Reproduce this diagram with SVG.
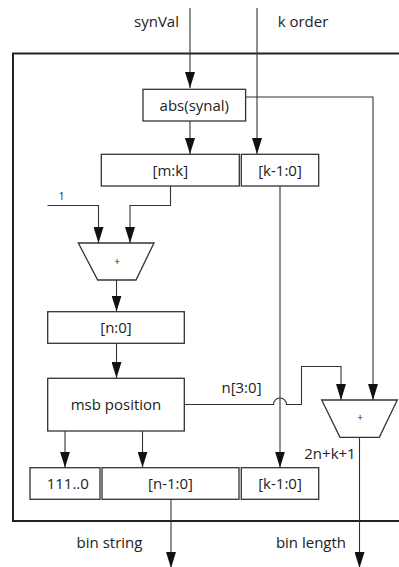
<svg xmlns="http://www.w3.org/2000/svg" width="399" height="567" viewBox="0 0 399 567">
<style>
.box{fill:#fff;stroke:#333;stroke-width:1.3}
.w{fill:none;stroke:#333;stroke-width:1.1}
.t{font-family:"Open Sans","Liberation Sans",sans-serif;font-size:15px;fill:#222;text-anchor:middle}
.s{font-family:"Open Sans","Liberation Sans",sans-serif;font-size:10px;fill:#222;text-anchor:middle}
</style>
<defs>
<marker id="a" viewBox="0 0 16 10" markerWidth="16" markerHeight="10" refX="16" refY="5" orient="auto" markerUnits="userSpaceOnUse">
<path d="M0,0 L16,5 L0,10 z" fill="#111"/>
</marker>
</defs>
<rect width="399" height="567" fill="#fff"/>
<rect id="frame" x="13" y="53.5" width="400" height="467.5" fill="none" stroke="#222" stroke-width="2"/>
<g id="connectors">
<path class="w" d="M190,8 V88" marker-end="url(#a)"/>
<path class="w" d="M257,8 V154" marker-end="url(#a)"/>
<path class="w" d="M190,121 V154" marker-end="url(#a)"/>
<path class="w" d="M246,97 H373 V400" marker-end="url(#a)"/>
<path class="w" d="M170.5,186 V205.5 H130 V243" marker-end="url(#a)"/>
<path class="w" d="M47.5,205.5 H98.5 V243" marker-end="url(#a)"/>
<path class="w" d="M116.5,280 V311.5" marker-end="url(#a)"/>
<path class="w" d="M116.5,343.5 V378" marker-end="url(#a)"/>
<path class="w" d="M280,186 V467.5" marker-end="url(#a)"/>
<path class="w" d="M184.5,404.5 H273.5 A6.5,6.5 0 0 1 286.5,404.5 H301.5 V366.5 H341 V400" marker-end="url(#a)"/>
<path class="w" d="M65,431 V467.5" marker-end="url(#a)"/>
<path class="w" d="M142.5,431 V467.5" marker-end="url(#a)"/>
<path class="w" d="M171,499.5 V568" marker-end="url(#a)"/>
<path class="w" d="M359.5,437.5 V568" marker-end="url(#a)"/>
</g>
<text class="t" x="156.5" y="27">synVal</text>
<text class="t" x="303" y="27">k order</text>
<text class="s" x="61.5" y="200">1</text>
<text class="t" x="241.5" y="393">n[3:0]</text>
<text class="t" x="330" y="458.5">2n+k+1</text>
<text class="t" x="109.5" y="548">bin string</text>
<text class="t" x="311" y="548">bin length</text>
<g id="abs"><rect class="box" x="143" y="89.3" width="102.6" height="31.7"/><text class="t" x="194.3" y="110.5">abs(synal)</text></g>
<g id="mk"><rect class="box" x="101.3" y="154.3" width="138" height="31.7"/><text class="t" x="170.3" y="176">[m:k]</text></g>
<g id="k1top"><rect class="box" x="241.3" y="154.3" width="77.4" height="31.7"/><text class="t" x="280" y="176">[k-1:0]</text></g>
<g id="add1"><path class="box" d="M78.3,243 H154 L136,280 H97.7 Z"/><text class="s" x="117" y="265">+</text></g>
<g id="n0"><rect class="box" x="47.7" y="311.7" width="136.6" height="31.6"/><text class="t" x="116" y="333">[n:0]</text></g>
<g id="msb"><rect class="box" x="47.7" y="378.3" width="136.6" height="52.7"/><text class="t" x="116" y="410">msb position</text></g>
<g id="add2"><path class="box" d="M321.7,400 H397.3 L379.3,437.3 H340 Z"/><text class="s" x="360" y="421">+</text></g>
<g id="ones"><rect class="box" x="30" y="467.7" width="70" height="31.6"/><text class="t" x="67.8" y="488.5">111..0</text></g>
<g id="n1"><rect class="box" x="102" y="467.7" width="137" height="31.6"/><text class="t" x="170.5" y="488.5">[n-1:0]</text></g>
<g id="k1bot"><rect class="box" x="241.3" y="467.7" width="77.4" height="31.6"/><text class="t" x="280" y="488.5">[k-1:0]</text></g>
</svg>
